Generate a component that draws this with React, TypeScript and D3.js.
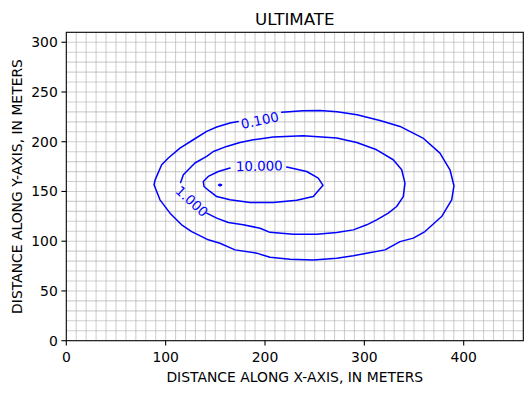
import React from "react";
import * as d3 from "d3";

const TITLE = "ULTIMATE";
const X_LABEL = "DISTANCE ALONG X-AXIS, IN METERS";
const Y_LABEL = "DISTANCE ALONG Y-AXIS, IN METERS";
const X_TICKS = [0, 100, 200, 300, 400];
const Y_TICKS = [0, 50, 100, 150, 200, 250, 300];
const X_DOMAIN: [number, number] = [0, 460];
const Y_DOMAIN: [number, number] = [0, 310];
const GRID_STEP = 10;

// contour level 0.100 (outer)
const contour010: [number, number][] = [
  [216.8, 229.7], [238.2, 231.2], [255.3, 231.4], [272.5, 230.2], [292.6, 227.1],
  [315.7, 221.4], [335.9, 215.4], [359.0, 203.7], [376.1, 188.6], [386.2, 171.8],
  [390.2, 155.7], [387.9, 141.6], [377.8, 124.8], [361.0, 109.7], [349.3, 103.1],
  [335.9, 99.6], [320.8, 91.3], [302.4, 88.0], [288.9, 85.3], [272.2, 82.9],
  [248.6, 81.2], [225.2, 81.9], [205.0, 83.9], [191.6, 88.0], [169.8, 91.3],
  [154.7, 98.0], [142.9, 101.4], [126.2, 109.7], [116.1, 116.5], [104.4, 128.2],
  [94.3, 141.6], [88.3, 156.7], [89.3, 161.4], [96.0, 176.8], [102.7, 183.6],
  [114.4, 193.6], [127.8, 202.0], [141.3, 210.4], [151.4, 214.8], [164.8, 218.8],
  [173.1, 220.4],
];

// contour level 1.000 (middle)
const contour1: [number, number][] = [
  [115.1, 159.0], [117.8, 166.8], [122.8, 171.8], [129.5, 178.6], [141.3, 185.2],
  [148.0, 190.2], [161.4, 195.3], [174.8, 199.3], [188.2, 202.0], [208.3, 204.7],
  [238.5, 206.0], [272.2, 203.7], [292.3, 199.3], [312.4, 191.9], [329.1, 181.9],
  [337.6, 171.8], [340.9, 158.4], [339.2, 144.9], [332.5, 134.9], [324.1, 128.2],
  [312.4, 121.5], [302.4, 116.5], [288.9, 111.4], [272.2, 108.7], [252.0, 107.1],
  [228.5, 107.1], [205.0, 108.9], [195.0, 113.1], [178.1, 116.5], [163.1, 118.8],
  [151.4, 123.2], [141.3, 128.2],
];

// contour level 10.000 (inner)
const contour10: [number, number][] = [
  [221.9, 174.5], [242.0, 170.1], [253.6, 163.5], [258.4, 156.2], [248.6, 144.9],
  [231.9, 141.1], [208.3, 138.9], [184.9, 138.9], [164.8, 141.6], [151.4, 144.9],
  [144.6, 150.0], [138.6, 155.0], [137.9, 160.0], [142.9, 165.1], [153.0, 170.1],
  [164.8, 173.5],
];

// small closed contour 10.000 island
const contour10b: [number, number][] = [
  [153.2, 156.4], [154.7, 157.3], [156.4, 156.6], [154.9, 155.6], [153.2, 156.4],
];

// contour labels
const LABEL_TEXT = ["0.100", "1.000", "10.000"];
const LABEL_X = [194.9, 126.2, 194.2];
const LABEL_Y = [221.2, 139.9, 175.3];
const LABEL_ANGLE = [-12, 42, -1];

const W = 532;
const H = 393;
const M = { left: 66.3, right: 523.3, top: 32.3, bottom: 340.7 };
const FONT = "'DejaVu Sans', sans-serif";

export default function App() {
  const x = d3.scaleLinear().domain(X_DOMAIN).range([M.left, M.right]);
  const y = d3.scaleLinear().domain(Y_DOMAIN).range([M.bottom, M.top]);
  const line = d3
    .line<[number, number]>()
    .x((d) => x(d[0]))
    .y((d) => y(d[1]))
    .curve(d3.curveLinear);

  const gx = d3.range(GRID_STEP, X_DOMAIN[1], GRID_STEP);
  const gy = d3.range(GRID_STEP, Y_DOMAIN[1], GRID_STEP);

  return (
    <svg
      width={W}
      height={H}
      style={{ position: "absolute", left: 0, top: 0, background: "#fff" }}
      fontFamily={FONT}
    >
      <rect x={0} y={0} width={W} height={H} fill="#fff" />
      <g stroke="#b0b0b0" strokeOpacity={0.6} strokeWidth={1.1}>
        {gx.map((v) => (
          <line key={"gx" + v} x1={x(v)} x2={x(v)} y1={M.top} y2={M.bottom} />
        ))}
        {gy.map((v) => (
          <line key={"gy" + v} y1={y(v)} y2={y(v)} x1={M.left} x2={M.right} />
        ))}
      </g>
      <g fill="none" stroke="#0000ff" strokeWidth={1.5} strokeLinejoin="round" strokeLinecap="round">
        <path d={line(contour010) || ""} />
        <path d={line(contour1) || ""} />
        <path d={line(contour10) || ""} />
        <path d={(line(contour10b) || "") + "Z"} fill="#0000ff" />
      </g>
      <g fill="#0000ff" fontSize={13.4} textAnchor="middle" dominantBaseline="central">
        {LABEL_TEXT.map((t, i) => (
          <text
            key={t}
            transform={`translate(${x(LABEL_X[i])},${y(LABEL_Y[i])}) rotate(${LABEL_ANGLE[i]})`}
          >
            {t}
          </text>
        ))}
      </g>
      <rect
        x={M.left}
        y={M.top}
        width={M.right - M.left}
        height={M.bottom - M.top}
        fill="none"
        stroke="#000"
        strokeWidth={1.1}
      />
      <g fontSize={13.9} fill="#000">
        {X_TICKS.map((v) => (
          <g key={"xt" + v}>
            <line x1={x(v)} x2={x(v)} y1={M.bottom} y2={M.bottom + 4.9} stroke="#000" strokeWidth={1.1} />
            <text x={x(v)} y={M.bottom + 21} textAnchor="middle">
              {v}
            </text>
          </g>
        ))}
        {Y_TICKS.map((v) => (
          <g key={"yt" + v}>
            <line x1={M.left - 4.9} x2={M.left} y1={y(v)} y2={y(v)} stroke="#000" strokeWidth={1.1} />
            <text x={M.left - 8.5} y={y(v)} textAnchor="end" dominantBaseline="central">
              {v}
            </text>
          </g>
        ))}
        <text x={(M.left + M.right) / 2} y={381.5} textAnchor="middle">
          {X_LABEL}
        </text>
        <text
          transform={`translate(21.5,${(M.top + M.bottom) / 2}) rotate(-90)`}
          textAnchor="middle"
        >
          {Y_LABEL}
        </text>
        <text x={(M.left + M.right) / 2} y={25} textAnchor="middle" fontSize={16.7}>
          {TITLE}
        </text>
      </g>
    </svg>
  );
}
